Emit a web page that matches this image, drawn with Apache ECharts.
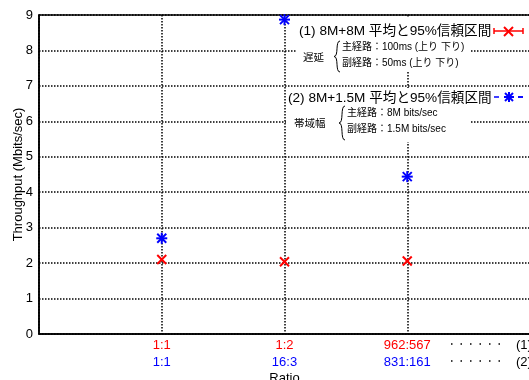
<!DOCTYPE html>
<html>
<head>
<meta charset="utf-8">
<script src="https://cdn.jsdelivr.net/npm/echarts@6/dist/echarts.min.js"></script>
<style>
  html, body { margin: 0; padding: 0; background: #fff; }
  #chart { width: 529px; height: 380px; }
</style>
</head>
<body>
<div id="chart"></div>
<script>
// x positions and ratio labels for each case
const xPos = [1, 2, 3];
const ratios1 = ['1:1', '1:2', '962:567'];
const ratios2 = ['1:1', '16:3', '831:161'];
// throughput (Mbits/sec)
const thr1 = [2.1, 2.04, 2.06]; // (1) 8M+8M
const thr2 = [2.7, 8.87, 4.44]; // (2) 8M+1.5M
const yTicks = [0, 1, 2, 3, 4, 5, 6, 7, 8, 9];

const RED = '#ff0000';
const BLUE = '#0000ff';
const FONT = '"Liberation Sans", "Noto Sans CJK JP", sans-serif';

const myChart = echarts.init(document.getElementById('chart'));

// draws an "x" cross (red) or an asterisk (blue) at a data point
function markerItem(kind) {
  return function (params, api) {
    const p = api.coord([api.value(0), api.value(1)]);
    const r = 4.5;
    const style = { stroke: kind === 'x' ? RED : BLUE, lineWidth: 2 };
    const lines = [];
    if (kind === 'x') {
      lines.push([p[0] - r, p[1] - r, p[0] + r, p[1] + r]);
      lines.push([p[0] - r, p[1] + r, p[0] + r, p[1] - r]);
    } else {
      lines.push([p[0] - r, p[1] - r, p[0] + r, p[1] + r]);
      lines.push([p[0] - r, p[1] + r, p[0] + r, p[1] - r]);
      lines.push([p[0], p[1] - r - 1, p[0], p[1] + r + 1]);
      lines.push([p[0] - r - 1, p[1], p[0] + r + 1, p[1]]);
    }
    return {
      type: 'group',
      children: lines.map((l) => ({
        type: 'line',
        shape: { x1: l[0], y1: l[1], x2: l[2], y2: l[3] },
        style: style,
      })),
    };
  };
}

function brace(x, top, bot) {
  const mid = (top + bot) / 2;
  const st = { stroke: '#000', lineWidth: 1, fill: null };
  return [
    { type: 'bezierCurve', shape: { x1: x + 6, y1: top, cpx1: x + 1, cpy1: top, cpx2: x + 5, cpy2: mid, x2: x, y2: mid }, style: st, z: 101 },
    { type: 'bezierCurve', shape: { x1: x, y1: mid, cpx1: x + 5, cpy1: mid, cpx2: x + 1, cpy2: bot, x2: x + 6, y2: bot }, style: st, z: 101 },
  ];
}

function txt(x, y, text, size, align) {
  return {
    type: 'text', x: x, y: y, z: 101,
    style: { text: text, fontSize: size, fontFamily: FONT, fill: '#000', align: align || 'left', verticalAlign: 'middle' },
  };
}

const graphics = [
  // legend box 1
  { type: 'rect', shape: { x: 296, y: 17, width: 174, height: 55 }, style: { fill: '#fff' }, z: 100 },
  txt(299, 31, '(1) 8M+8M 平均と95%信頼区間', 13.6),
  txt(303, 58, '遅延', 10.5),
  ...brace(334, 41, 72),
  txt(342, 47, '主経路：100ms (上り 下り)', 10),
  txt(342, 63, '副経路：50ms (上り 下り)', 10),
  { type: 'line', shape: { x1: 494, y1: 31, x2: 523, y2: 31 }, style: { stroke: RED, lineWidth: 1.5 }, z: 101 },
  { type: 'line', shape: { x1: 494, y1: 28, x2: 494, y2: 34 }, style: { stroke: RED, lineWidth: 1.5 }, z: 101 },
  { type: 'line', shape: { x1: 523, y1: 28, x2: 523, y2: 34 }, style: { stroke: RED, lineWidth: 1.5 }, z: 101 },
  { type: 'line', shape: { x1: 504, y1: 27, x2: 513, y2: 36 }, style: { stroke: RED, lineWidth: 2 }, z: 101 },
  { type: 'line', shape: { x1: 504, y1: 36, x2: 513, y2: 27 }, style: { stroke: RED, lineWidth: 2 }, z: 101 },
  // legend box 2
  { type: 'rect', shape: { x: 286, y: 88, width: 184, height: 54 }, style: { fill: '#fff' }, z: 100 },
  txt(288, 98, '(2) 8M+1.5M 平均と95%信頼区間', 13.6),
  txt(294, 124, '帯域幅', 10.5),
  ...brace(339, 106, 140),
  txt(347, 113, '主経路：8M bits/sec', 10),
  txt(347, 129, '副経路：1.5M bits/sec', 10),
  { type: 'line', shape: { x1: 494, y1: 97, x2: 523, y2: 97 }, style: { stroke: BLUE, lineWidth: 1.5, lineDash: [5, 19] }, z: 101 },
  { type: 'line', shape: { x1: 518, y1: 97, x2: 523, y2: 97 }, style: { stroke: BLUE, lineWidth: 1.5 }, z: 101 },
  { type: 'line', shape: { x1: 505, y1: 93, x2: 513, y2: 101 }, style: { stroke: BLUE, lineWidth: 2 }, z: 101 },
  { type: 'line', shape: { x1: 505, y1: 101, x2: 513, y2: 93 }, style: { stroke: BLUE, lineWidth: 2 }, z: 101 },
  { type: 'line', shape: { x1: 509, y1: 92, x2: 509, y2: 102 }, style: { stroke: BLUE, lineWidth: 2 }, z: 101 },
  { type: 'line', shape: { x1: 504, y1: 97, x2: 514, y2: 97 }, style: { stroke: BLUE, lineWidth: 2 }, z: 101 },
  // keys for the two label rows
  { type: 'line', shape: { x1: 451, y1: 344, x2: 501, y2: 344 }, style: { stroke: '#000', lineWidth: 1.5, lineDash: [1.5, 8] }, z: 101 },
  { type: 'line', shape: { x1: 451, y1: 361, x2: 501, y2: 361 }, style: { stroke: '#000', lineWidth: 1.5, lineDash: [1.5, 8] }, z: 101 },
  txt(516, 345, '(1)', 13),
  txt(516, 362, '(2)', 13),
];

myChart.setOption({
  animation: false,
  backgroundColor: '#fff',
  grid: {
    left: 39, top: 15, width: 491, height: 319,
    outerBoundsMode: 'none',
    containLabel: false,
    show: true, borderColor: '#000', borderWidth: 1.5,
  },
  xAxis: {
    type: 'value',
    min: 0, max: 4, interval: 1,
    name: 'Ratio',
    nameLocation: 'middle',
    nameGap: 38,
    nameMoveOverlap: false,
    nameTextStyle: { fontSize: 13, fontFamily: FONT, color: '#000' },
    axisLine: { lineStyle: { color: '#000', width: 1.5 } },
    axisTick: { show: false },
    splitLine: { lineStyle: { color: '#000', width: 1.5, type: [1.5, 1.5] } },
    axisLabel: {
      margin: 3,
      fontFamily: FONT,
      formatter: (v) => {
        const i = xPos.indexOf(v);
        if (i < 0) return '';
        return '{a|' + ratios1[i] + '}\n{b|' + ratios2[i] + '}';
      },
      rich: {
        a: { color: RED, fontSize: 13, lineHeight: 17, fontFamily: FONT },
        b: { color: BLUE, fontSize: 13, lineHeight: 17, fontFamily: FONT },
      },
    },
  },
  yAxis: {
    type: 'value',
    min: yTicks[0], max: yTicks[yTicks.length - 1], interval: 1,
    name: 'Throughput (Mbits/sec)',
    nameLocation: 'middle',
    nameGap: 14,
    nameMoveOverlap: false,
    nameTextStyle: { fontSize: 13, fontFamily: FONT, color: '#000' },
    axisLine: { show: true, lineStyle: { color: '#000', width: 1.5 } },
    axisTick: { show: false },
    splitLine: { lineStyle: { color: '#000', width: 1.5, type: [1.5, 1.5] } },
    axisLabel: { fontSize: 13, fontFamily: FONT, color: '#000', margin: 6 },
  },
  series: [
    {
      name: '(1)',
      type: 'custom',
      renderItem: markerItem('x'),
      data: xPos.map((x, i) => [x, thr1[i]]),
      z: 10,
    },
    {
      name: '(2)',
      type: 'custom',
      renderItem: markerItem('*'),
      data: xPos.map((x, i) => [x, thr2[i]]),
      z: 10,
    },
  ],
  graphic: graphics,
});
</script>
</body>
</html>
